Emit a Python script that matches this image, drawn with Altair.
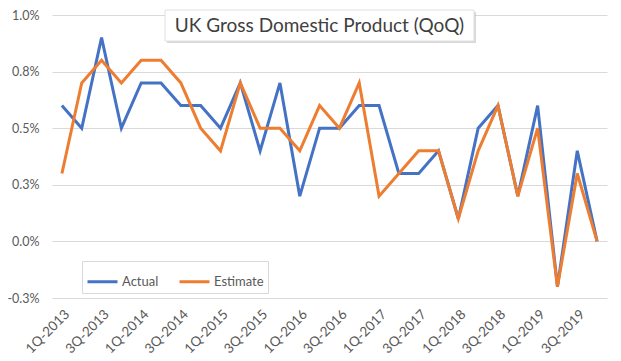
import altair as alt
import pandas as pd

quarters = [
    "1Q-2013", "2Q-2013", "3Q-2013", "4Q-2013",
    "1Q-2014", "2Q-2014", "3Q-2014", "4Q-2014",
    "1Q-2015", "2Q-2015", "3Q-2015", "4Q-2015",
    "1Q-2016", "2Q-2016", "3Q-2016", "4Q-2016",
    "1Q-2017", "2Q-2017", "3Q-2017", "4Q-2017",
    "1Q-2018", "2Q-2018", "3Q-2018", "4Q-2018",
    "1Q-2019", "2Q-2019", "3Q-2019", "4Q-2019",
]
actual = [0.6, 0.5, 0.9, 0.5, 0.7, 0.7, 0.6, 0.6, 0.5, 0.7, 0.4, 0.7, 0.2, 0.5,
          0.5, 0.6, 0.6, 0.3, 0.3, 0.4, 0.1, 0.5, 0.6, 0.2, 0.6, -0.2, 0.4, 0.0]
estimate = [0.3, 0.7, 0.8, 0.7, 0.8, 0.8, 0.7, 0.5, 0.4, 0.7, 0.5, 0.5, 0.4, 0.6,
            0.5, 0.7, 0.2, 0.3, 0.4, 0.4, 0.1, 0.4, 0.6, 0.2, 0.5, -0.2, 0.3, 0.0]
series_names = ["Actual", "Estimate"]
series_colors = ["#4472C4", "#ED7D31"]
x_tick_labels = quarters[::2]
y_ticks = [-0.25, 0.0, 0.25, 0.5, 0.75, 1.0]
y_tick_labels = ["-0.3%", "0.0%", "0.3%", "0.5%", "0.8%", "1.0%"]
title_text = "UK Gross Domestic Product (QoQ)"

FONT = "Lato"
GREY = "#595959"

rows = []
for name, vals in zip(series_names, [actual, estimate]):
    for q, v in zip(quarters, vals):
        rows.append({"quarter": q, "value": v, "series": name})
df = pd.DataFrame(rows)

label_expr = " : ".join(
    f"datum.value == {v} ? '{l}'" for v, l in zip(y_ticks, y_tick_labels)
) + " : ''"

lines = alt.Chart(df).mark_line(strokeWidth=3).encode(
    x=alt.X("quarter:N", sort=quarters, title=None,
            scale=alt.Scale(padding=0.5),
            axis=alt.Axis(values=x_tick_labels, labelAngle=-45, grid=False,
                          domain=False, ticks=False, labelPadding=9,
                          labelFont=FONT, labelFontSize=13.5, labelColor=GREY)),
    y=alt.Y("value:Q", title=None,
            scale=alt.Scale(domain=[-0.25, 1.0], nice=False, zero=False),
            axis=alt.Axis(values=y_ticks, labelExpr=label_expr, grid=True,
                          gridColor="#D9D9D9", gridWidth=1, domain=False,
                          ticks=False, labelPadding=13, labelFont=FONT,
                          labelFontSize=12.5, labelColor=GREY)),
    color=alt.Color("series:N", sort=series_names,
                    scale=alt.Scale(domain=series_names, range=series_colors),
                    legend=alt.Legend(orient="none", legendX=30, legendY=246,
                                      direction="horizontal", title=None,
                                      fillColor="white", strokeColor="#D9D9D9",
                                      padding=4, symbolType="stroke",
                                      symbolSize=900, symbolStrokeWidth=3,
                                      labelFont=FONT, labelFontSize=13,
                                      labelColor=GREY, columnPadding=14,
                                      labelOffset=3)),
)

box_df = pd.DataFrame({"t": [title_text]})
shadow = alt.Chart(box_df).mark_rect(color="#BFBFBF", opacity=0.6).encode(
    x=alt.value(115), x2=alt.value(424), y=alt.value(-3), y2=alt.value(28))
box = alt.Chart(box_df).mark_rect(fill="white", stroke="#E0E0E0").encode(
    x=alt.value(113), x2=alt.value(422), y=alt.value(-5), y2=alt.value(26))
title = alt.Chart(box_df).mark_text(font=FONT, fontSize=19, color="#404040",
                                    baseline="middle", align="center").encode(
    text="t:N", x=alt.value(267.5), y=alt.value(11))

chart = alt.layer(lines, shadow, box, title).properties(
    width=555, height=283,
    autosize=alt.AutoSizeParams(type="none"),
    padding={"left": 44, "top": 7, "right": 6, "bottom": 58},
    background="white",
).configure_view(stroke=None)

chart.save("out.html", embed_options={"renderer": "svg", "actions": False})
